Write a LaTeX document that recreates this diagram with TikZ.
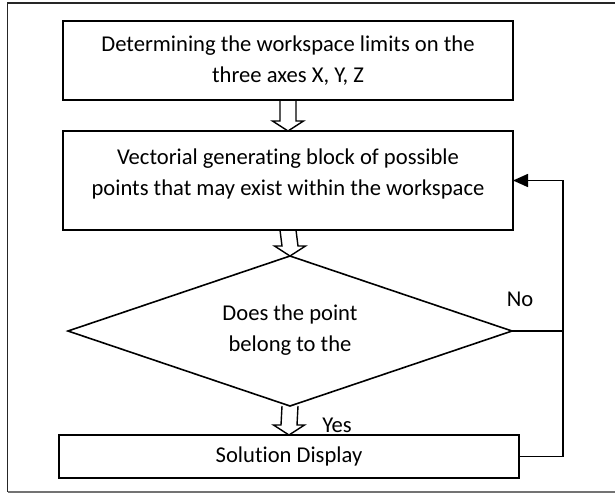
\documentclass[tikz,border=0pt]{standalone}
\usepackage{fontspec}
\setmainfont[Ligatures=NoCommon]{Carlito}
\usetikzlibrary{arrows.meta,shapes.geometric,calc}
\begin{document}
\begin{tikzpicture}[x=1pt,y=-1pt,
  line/.style={line width=1.6pt,line join=miter},
  box/.style={draw,line width=1.6pt,inner sep=0pt,outer sep=0pt,rectangle},
  txt/.style={font=\fontsize{22.6}{31}\selectfont,align=center,inner sep=0pt},
  hollow/.style={draw,line width=1.4pt,line join=miter},
  tip/.style={-{Triangle[length=15pt,width=13pt]}}]
\useasboundingbox (0,0) rectangle (615,493);
% frame
\draw[line width=1.2pt,black!85] (615,3) -- (7.5,3) -- (7.5,492);
\draw[line width=1.2pt,black!55] (7.5,492) -- (615,492);
% boxes
\node[box,minimum width=450pt,minimum height=79pt,txt] (b1) at (288,60.5)
  {Determining the workspace limits on the\\three axes X, Y, Z};
\node[box,minimum width=450pt,minimum height=99pt] (b2) at (288,180.5) {};
\node[txt] (t2) at (288,174) {Vectorial generating block of possible\\points that may exist within the workspace};
\node[diamond,draw,line width=1.6pt,inner sep=0pt,outer sep=0pt,minimum width=444pt,minimum height=150pt] (d) at (290,331) {};
\node[txt] (td) at (290,330) {Does the point\\belong to the};
\node[box,minimum width=460pt,minimum height=43pt,txt] (b3) at (289,456.5) {Solution Display};
% hollow arrows
\foreach \a/\b in {b1.south/b2.north, b2.south/d.north, d.south/b3.north}{
  \draw[hollow] ($(\a)+(-8,0)$) -- ($(\b)+(-8,-10)$) -- ($(\b)+(-15.5,-10)$) -- (\b)
     -- ($(\b)+(15.5,-10)$) -- ($(\b)+(8,-10)$) -- ($(\a)+(8,0)$);
}
% feedback
\coordinate (fb) at (563,331);
\draw[line] (d.east) -- (fb);
\draw[line,tip] (b3.east) -- (b3.east -| fb) |- (b2.east);
% labels
\node[txt] (no) at (520,299) {No};
\node[txt] (yes) at (337,425) {Yes};
\end{tikzpicture}
\end{document}
